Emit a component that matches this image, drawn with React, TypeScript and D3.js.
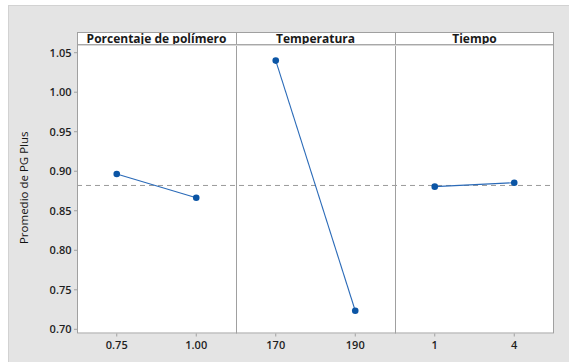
import React from "react";
import * as d3 from "d3";

// Factor panels and their level means
const factorNames = ["Porcentaje de polímero", "Temperatura", "Tiempo"];
const porcentajeLevels = ["0.75", "1.00"];
const porcentajeMeans = [0.8965, 0.8665];
const temperaturaLevels = ["170", "190"];
const temperaturaMeans = [1.04, 0.7235];
const tiempoLevels = ["1", "4"];
const tiempoMeans = [0.8805, 0.8855];
const grandMean = 0.882;
const yTicks = [0.7, 0.75, 0.8, 0.85, 0.9, 0.95, 1.0, 1.05];
const yTitle = "Promedio de PG Plus";

const W = 569;
const H = 362;
const plotLeft = 77;
const plotRight = 554;
const headerTop = 32;
const headerBottom = 45;
const plotBottom = 333.5;
const FONT = "'Open Sans', 'Noto Sans', sans-serif";

export default function App() {
  const panels = [
    { name: factorNames[0], levels: porcentajeLevels, means: porcentajeMeans },
    { name: factorNames[1], levels: temperaturaLevels, means: temperaturaMeans },
    { name: factorNames[2], levels: tiempoLevels, means: tiempoMeans },
  ];

  const y = d3.scaleLinear().domain([0.7, 1.05]).range([329.3, 52.7]);
  const panelScale = d3
    .scaleBand<number>()
    .domain(d3.range(panels.length))
    .range([plotLeft, plotRight])
    .paddingInner(0)
    .paddingOuter(0);
  const pw = panelScale.bandwidth();

  const line = d3
    .line<{ x: number; y: number }>()
    .x((d) => d.x)
    .y((d) => d.y);

  return (
    <svg
      width={W}
      height={H}
      style={{ position: "absolute", left: 0, top: 0 }}
      fontFamily={FONT}
    >
      <rect x={0} y={0} width={W} height={H} fill="#ffffff" />
      <rect x={8.5} y={5.5} width={W} height={H} fill="#e4e4e4" stroke="#d2d2d2" />

      {/* plotting area */}
      <rect
        x={plotLeft}
        y={headerTop}
        width={plotRight - plotLeft}
        height={plotBottom - headerTop}
        fill="#ffffff"
      />

      {/* grand mean reference line */}
      <line
        x1={plotLeft}
        x2={plotRight}
        y1={y(grandMean)}
        y2={y(grandMean)}
        stroke="#9a9a9a"
        strokeWidth={1}
        strokeDasharray="5,4"
      />

      {panels.map((p, i) => {
        const x0 = panelScale(i)!;
        const xs = d3
          .scalePoint<string>()
          .domain(p.levels)
          .range([x0, x0 + pw])
          .padding(0.5);
        const pts = p.levels.map((l, j) => ({ x: xs(l)!, y: y(p.means[j]) }));
        return (
          <g key={p.name}>
            {/* header strip */}
            <text
              x={x0 + pw / 2}
              y={headerTop + 10.5}
              textAnchor="middle"
              fontSize={12}
              fontWeight={700}
              fill="#1a1a1a"
            >
              {p.name}
            </text>
            <path d={line(pts)!} fill="none" stroke="#2a6ab8" strokeWidth={1.1} />
            {pts.map((pt, j) => (
              <circle key={j} cx={pt.x} cy={pt.y} r={3.3} fill="#0b55a5" />
            ))}
            {p.levels.map((l) => (
              <g key={l} transform={`translate(${xs(l)},${plotBottom})`}>
                <line y1={0} y2={3} stroke="#a0a0a0" />
                <text
                  y={15.5}
                  textAnchor="middle"
                  fontSize={11}
                  fontWeight={600}
                  fill="#1e1e1e"
                >
                  {l}
                </text>
              </g>
            ))}
            {i > 0 && (
              <line
                x1={x0 + 0.5}
                x2={x0 + 0.5}
                y1={headerTop}
                y2={plotBottom}
                stroke="#a0a0a0"
              />
            )}
          </g>
        );
      })}

      {/* header separator */}
      <line x1={plotLeft} x2={plotRight} y1={headerBottom - 0.5} y2={headerBottom - 0.5} stroke="#a8a8a8" />
      <line x1={plotLeft} x2={plotRight} y1={headerBottom + 0.5} y2={headerBottom + 0.5} stroke="#d8d8d8" />

      {/* frame */}
      <rect
        x={plotLeft + 0.5}
        y={headerTop + 0.5}
        width={plotRight - plotLeft - 1}
        height={plotBottom - headerTop - 1}
        fill="none"
        stroke="#a0a0a0"
      />

      {/* y axis */}
      {yTicks.map((t) => (
        <g key={t} transform={`translate(${plotLeft},${y(t)})`}>
          <line x1={-3} x2={0} stroke="#a0a0a0" />
          <text
            x={-5.5}
            dy="0.35em"
            textAnchor="end"
            fontSize={11}
            fontWeight={600}
            fill="#1e1e1e"
          >
            {d3.format(".2f")(t)}
          </text>
        </g>
      ))}
      <text
        transform={`translate(27.5,${(headerTop + plotBottom) / 2 + 5}) rotate(-90)`}
        textAnchor="middle"
        fontSize={11.5}
        fill="#111111"
      >
        {yTitle}
      </text>
    </svg>
  );
}
